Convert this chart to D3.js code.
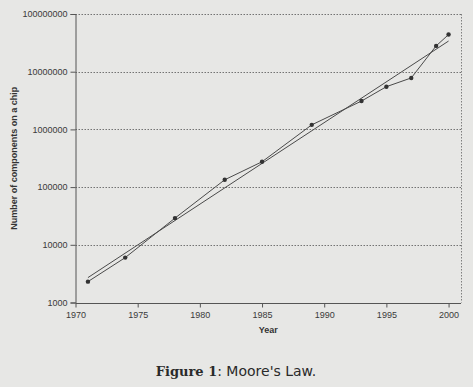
<!DOCTYPE html>
<html><head><meta charset="utf-8">
<script src="https://cdn.jsdelivr.net/npm/d3@7"></script>
<style>
html,body{margin:0;padding:0;background:#e7e7e5;}
svg{display:block;}
</style></head>
<body>
<svg id="c" width="473" height="387"></svg>
<script>
const years = [1971, 1974, 1978, 1982, 1985, 1989, 1993, 1995, 1997, 1999, 2000];
const transistors = [2300, 6000, 29000, 134000, 275000, 1200000, 3100000, 5500000, 7800000, 28000000, 44000000];
const trendYears = [1971, 2000];
const trendValues = [2700, 34000000];
const xTicks = [1970, 1975, 1980, 1985, 1990, 1995, 2000];
const yTicks = [1000, 10000, 100000, 1000000, 10000000, 100000000];

const svg = d3.select("#c");
const L = 75.5, R = 461, T = 14, B = 302.5;
const x = d3.scaleLinear().domain([1970, 2001]).range([L, R]);
const y = d3.scaleLog().domain([1000, 100000000]).range([B, T]);
const ink = "#4a4a4a";

// gridlines
svg.append("g").selectAll("line").data(yTicks.slice(1)).join("line")
  .attr("x1", L).attr("x2", R)
  .attr("y1", d => Math.round(y(d)) + 0.5).attr("y2", d => Math.round(y(d)) + 0.5)
  .attr("stroke", "#555").attr("stroke-width", 0.8).attr("stroke-dasharray", "1.5,1.5");
// right border dotted
svg.append("line").attr("x1", R + 0.5).attr("x2", R + 0.5).attr("y1", T).attr("y2", B)
  .attr("stroke", "#666").attr("stroke-width", 0.8).attr("stroke-dasharray", "1.5,1.5");

// axes
const xAxis = d3.axisBottom(x).tickValues(xTicks).tickFormat(d3.format("d")).tickSizeOuter(0).tickSize(4);
const yAxis = d3.axisLeft(y).tickValues(yTicks).tickFormat(d3.format("d")).tickSizeOuter(0).tickSize(5);
const gx = svg.append("g").attr("transform", `translate(0,${Math.round(B)+0.5})`).call(xAxis);
const gy = svg.append("g").attr("transform", `translate(${L},0)`).call(yAxis);
[gx, gy].forEach(g => {
  g.select(".domain").attr("stroke", "#555").attr("stroke-width", 1);
  g.selectAll(".tick line").attr("stroke", "#555");
  g.selectAll("text").attr("fill", "#3a3a3a").style("font-family", "Liberation Sans, Arial, sans-serif").style("font-size", "9px");
});
gx.select(".domain").attr("d", `M${L},0H${R}`);
gx.selectAll(".tick text").attr("dy", "0.9em").attr("y", 6);
gy.selectAll(".tick text").attr("x", -8);

// lines
const line = d3.line().x(d => x(d[0])).y(d => y(d[1]));
svg.append("path").datum(trendYears.map((t, i) => [t, trendValues[i]]))
  .attr("d", line).attr("fill", "none").attr("stroke", ink).attr("stroke-width", 1);
const pts = years.map((t, i) => [t, transistors[i]]);
svg.append("path").datum(pts).attr("d", line).attr("fill", "none").attr("stroke", ink).attr("stroke-width", 1);
svg.append("g").selectAll("circle").data(pts).join("circle")
  .attr("cx", d => x(d[0])).attr("cy", d => y(d[1])).attr("r", 2.2).attr("fill", "#333");

// axis titles
svg.append("text").attr("x", x(1985.5)).attr("y", 333).attr("text-anchor", "middle")
  .style("font-family", "Liberation Sans, Arial, sans-serif").style("font-size", "9px").style("font-weight", "bold")
  .attr("fill", "#333").text("Year");
svg.append("text").attr("transform", `translate(17,${(T+B)/2}) rotate(-90)`).attr("text-anchor", "middle")
  .style("font-family", "Liberation Sans, Arial, sans-serif").style("font-size", "9px").style("font-weight", "bold")
  .attr("fill", "#333").text("Number of components on a chip");

// caption
const cap = svg.append("text").attr("x", 236).attr("y", 376).attr("text-anchor", "middle").attr("fill", "#2a2a2a").style("font-size", "14px");
cap.append("tspan").style("font-family", "DejaVu Serif, serif").style("font-weight", "bold").style("font-size", "13px").text("Figure 1");
cap.append("tspan").style("font-family", "DejaVu Sans, sans-serif").text(": Moore's Law.");
</script>
</body></html>
